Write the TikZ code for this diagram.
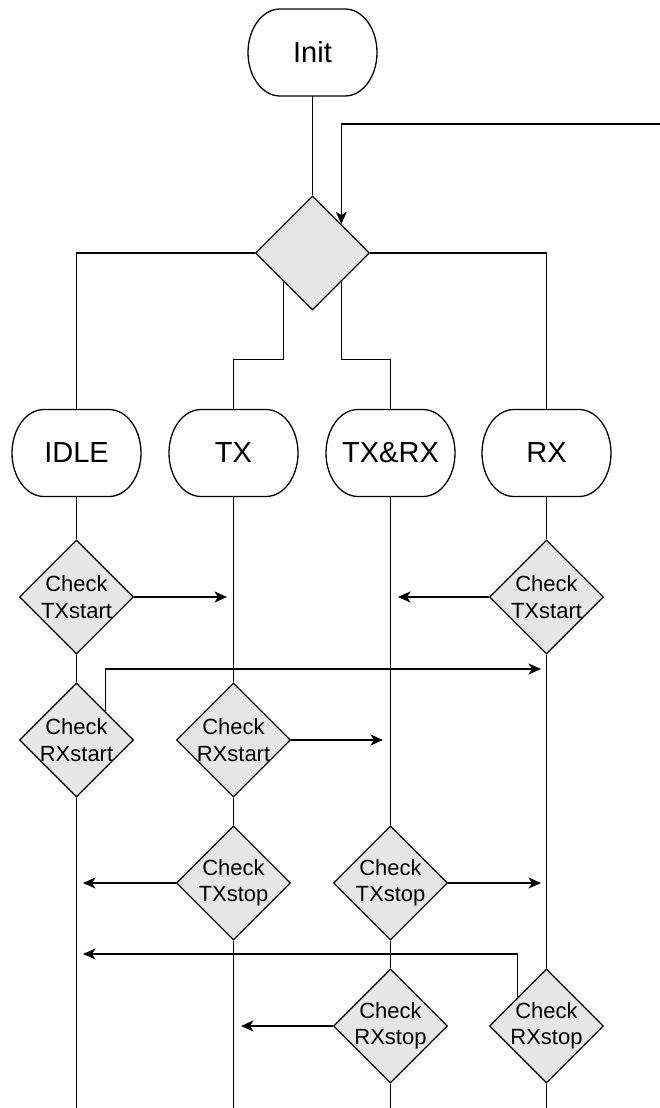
\documentclass[tikz,border=0pt]{standalone}
\usepackage{fontspec}
\setmainfont{Liberation Sans}
\usetikzlibrary{shapes.geometric,arrows.meta,calc}
\definecolor{diagfill}{RGB}{230,230,230}
\begin{document}
\begin{tikzpicture}[x=1pt,y=-1pt,
  term/.style={minimum width=129pt,minimum height=87pt,inner sep=0pt,outer sep=0pt,
    font=\fontsize{29}{34}\selectfont},
  decide/.style={diamond,draw=black,line width=1.3pt,fill=diagfill,
    minimum width=114pt,minimum height=114pt,inner sep=0pt,aspect=1},
  dtext/.style={font=\fontsize{22}{26.5}\selectfont,align=center,inner sep=0pt},
  wire/.style={draw=black,line width=1.3pt},
  flow/.style={wire,-{Stealth[length=12.5pt,width=11pt,inset=3.5pt]}}]
\useasboundingbox (0,0) rectangle (660,1108);

% state nodes (outlines drawn below)
\node[term] (init) at (312.5,52.5) {Init};
\node[term] (idle) at (76.5,453) {IDLE};
\node[term] (tx)   at (233.5,453) {TX};
\node[term] (txrx) at (390.5,453) {TX\&RX};
\node[term] (rx)   at (546.5,453) {RX};
\foreach \n in {init,idle,tx,txrx,rx}
  \draw[wire] ([xshift=32pt]\n.north west) -- ([xshift=-32pt]\n.north east)
    arc[start angle=90,end angle=-90,x radius=32pt,y radius=43.5pt]
    -- ([xshift=32pt]\n.south west)
    arc[start angle=270,end angle=90,x radius=32pt,y radius=43.5pt] -- cycle;

% dispatcher
\node[decide] (hub) at (312.5,253) {};

% checks
\foreach \n/\x/\y/\t in {c1/76.5/597/TXstart, c2/546.5/597/TXstart,
                         c3/76.5/740/RXstart, c4/233.5/740/RXstart,
                         c5/233.5/883/TXstop, c6/390.5/883/TXstop,
                         c7/390.5/1026/RXstop, c8/546.5/1026/RXstop} {
  \node[decide] (\n) at (\x,\y) {};
  \node[dtext] (\n-text) at (\n) {Check\\\t};
}

% free ends
\coordinate (loopin) at (662,124);
\coordinate (idle-end) at (76.5,1110);
\coordinate (tx-end) at (233.5,1110);
\coordinate (txrx-end) at (390.5,1110);
\coordinate (rx-end) at (546.5,1110);
\coordinate (a1) at (227,597);
\coordinate (a2) at (398,597);
\coordinate (a3) at (541,669);
\coordinate (a4) at (383,740);
\coordinate (a5) at (83,883);
\coordinate (a6) at (541,883);
\coordinate (a7) at (241,1026);
\coordinate (a8) at (83,954);

% dispatcher wiring
\draw[wire] (init.south) -- (hub.north);
\draw[flow] (loopin) -| (hub.north east);
\draw[wire] (hub.west) -| (idle.north);
\draw[wire] (hub.east) -| (rx.north);
\draw[wire] (hub.south west) |- ($(tx.north)+(0,-50)$) -- (tx.north);
\draw[wire] (hub.south east) |- ($(txrx.north)+(0,-50)$) -- (txrx.north);

% state columns
\draw[wire] (idle.south) -- (c1.north) (c1.south) -- (c3.north) (c3.south) -- (idle-end);
\draw[wire] (tx.south) -- (c4.north) (c4.south) -- (c5.north) (c5.south) -- (tx-end);
\draw[wire] (txrx.south) -- (c6.north) (c6.south) -- (c7.north) (c7.south) -- (txrx-end);
\draw[wire] (rx.south) -- (c2.north) (c2.south) -- (c8.north) (c8.south) -- (rx-end);

% transitions
\draw[flow] (c1.east) -- (a1);
\draw[flow] (c2.west) -- (a2);
\draw[flow] (c3.north east) |- (a3);
\draw[flow] (c4.east) -- (a4);
\draw[flow] (c5.west) -- (a5);
\draw[flow] (c6.east) -- (a6);
\draw[flow] (c7.west) -- (a7);
\draw[flow] (c8.north west) |- (a8);
\end{tikzpicture}
\end{document}
